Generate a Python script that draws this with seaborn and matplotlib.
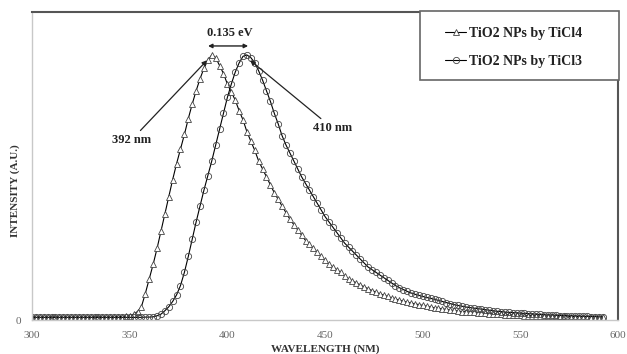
import numpy as np
import pandas as pd
import matplotlib
matplotlib.use("Agg")
import matplotlib.pyplot as plt
from matplotlib.patches import Rectangle
import seaborn as sns

# Fotoluminescência - TiO2 NPs (TiCl4 x TiCl3)
sns.set_style("white")
plt.rcParams['font.family'] = ['Liberation Serif', 'DejaVu Serif']

# comprimento de onda (nm), passo de 2 nm
wavelength = np.arange(300, 594, 2)

ticl4 = [
    0.012, 0.012, 0.012, 0.012, 0.012, 0.012, 0.012, 0.012, 0.012, 0.012,  # 300-318
    0.012, 0.012, 0.012, 0.012, 0.012, 0.012, 0.012, 0.012, 0.012, 0.012,  # 320-338
    0.012, 0.012, 0.013, 0.013, 0.014, 0.016, 0.022, 0.032, 0.050, 0.100,  # 340-358
    0.155, 0.210, 0.270, 0.335, 0.400, 0.465, 0.530, 0.590, 0.645, 0.700,  # 360-378
    0.760, 0.815, 0.865, 0.910, 0.950, 0.980, 1.000, 0.990, 0.960, 0.930,  # 380-398
    0.890, 0.860, 0.830, 0.790, 0.755, 0.710, 0.675, 0.640, 0.600, 0.570,  # 400-418
    0.540, 0.510, 0.480, 0.455, 0.430, 0.405, 0.380, 0.360, 0.340, 0.320,  # 420-438
    0.300, 0.285, 0.270, 0.255, 0.240, 0.225, 0.210, 0.200, 0.190, 0.180,  # 440-458
    0.165, 0.155, 0.147, 0.140, 0.132, 0.125, 0.118, 0.111, 0.105, 0.099,  # 460-478
    0.094, 0.089, 0.084, 0.079, 0.075, 0.071, 0.067, 0.064, 0.061, 0.058,  # 480-498
    0.055, 0.052, 0.049, 0.046, 0.044, 0.042, 0.040, 0.038, 0.036, 0.034,  # 500-518
    0.032, 0.031, 0.030, 0.029, 0.027, 0.026, 0.025, 0.024, 0.023, 0.022,  # 520-538
    0.021, 0.020, 0.020, 0.019, 0.018, 0.018, 0.017, 0.017, 0.016, 0.016,  # 540-558
    0.015, 0.015, 0.015, 0.014, 0.014, 0.014, 0.014, 0.013, 0.013, 0.013,  # 560-578
    0.013, 0.013, 0.012, 0.012, 0.012, 0.012, 0.012,                       # 580-592
]

ticl3 = [
    0.010, 0.010, 0.010, 0.010, 0.010, 0.010, 0.010, 0.010, 0.010, 0.010,  # 300-318
    0.010, 0.010, 0.010, 0.010, 0.010, 0.010, 0.010, 0.010, 0.010, 0.010,  # 320-338
    0.010, 0.010, 0.010, 0.010, 0.010, 0.010, 0.010, 0.010, 0.010, 0.011,  # 340-358
    0.011, 0.012, 0.016, 0.022, 0.035, 0.050, 0.070, 0.095, 0.130, 0.180,  # 360-378
    0.240, 0.305, 0.370, 0.430, 0.490, 0.545, 0.600, 0.660, 0.720, 0.780,  # 380-398
    0.840, 0.890, 0.935, 0.970, 0.995, 1.000, 0.990, 0.970, 0.940, 0.905,  # 400-418
    0.865, 0.825, 0.780, 0.740, 0.695, 0.660, 0.630, 0.600, 0.570, 0.540,  # 420-438
    0.515, 0.490, 0.465, 0.440, 0.415, 0.390, 0.370, 0.350, 0.330, 0.310,  # 440-458
    0.290, 0.275, 0.260, 0.245, 0.230, 0.215, 0.200, 0.190, 0.180, 0.170,  # 460-478
    0.160, 0.150, 0.140, 0.130, 0.122, 0.115, 0.108, 0.102, 0.097, 0.093,  # 480-498
    0.089, 0.085, 0.082, 0.078, 0.074, 0.070, 0.066, 0.062, 0.058, 0.055,  # 500-518
    0.052, 0.049, 0.047, 0.045, 0.043, 0.041, 0.039, 0.037, 0.035, 0.033,  # 520-538
    0.032, 0.030, 0.029, 0.028, 0.027, 0.026, 0.025, 0.024, 0.023, 0.022,  # 540-558
    0.021, 0.020, 0.019, 0.019, 0.018, 0.017, 0.017, 0.016, 0.016, 0.015,  # 560-578
    0.015, 0.014, 0.014, 0.013, 0.013, 0.012, 0.012,                       # 580-592
]

x_ticks = [300, 350, 400, 450, 500, 550, 600]

fig = plt.figure(figsize=(6.27, 3.54), dpi=100)
ax = fig.add_axes([0.051, 0.096, 0.935, 0.870])

sns.lineplot(x=wavelength, y=ticl4, ax=ax, color="black", lw=0.8,
             marker="^", markersize=4, markerfacecolor="white",
             markeredgecolor="#444444", markeredgewidth=0.6,
             label="TiO2 NPs by TiCl4")
sns.lineplot(x=wavelength, y=ticl3, ax=ax, color="black", lw=0.8,
             marker="o", markersize=4.5, markerfacecolor="none",
             markeredgecolor="#444444", markeredgewidth=0.6,
             label="TiO2 NPs by TiCl3")

ax.set_xlim(300, 600)
ax.set_ylim(0, 1.162)
ax.set_xticks(x_ticks)
ax.set_yticks([0])
ax.tick_params(length=0, labelsize=8, colors="#666666", pad=8)

for s in ["top", "right"]:
    ax.spines[s].set_color("#555555")
    ax.spines[s].set_linewidth(1.5)
for s in ["left", "bottom"]:
    ax.spines[s].set_color("#c8c8c8")
    ax.spines[s].set_linewidth(1.0)

ax.set_xlabel("WAVELENGTH (NM)", fontsize=8, fontweight="bold", color="#333333", labelpad=3)
ax.set_ylabel("INTENSITY (A.U.)", fontsize=8, fontweight="bold", color="#333333")
ax.yaxis.set_label_coords(-0.021, 0.42)

# anotações dos picos
ax.annotate("392 nm", xy=(389.6, 0.98), xytext=(351, 0.68), ha="center", va="center",
            fontsize=9, fontweight="bold", color="#222222",
            arrowprops=dict(arrowstyle="-|>", color="#222222", lw=0.9,
                            mutation_scale=7, shrinkA=0, shrinkB=0))
ax.annotate("410 nm", xy=(411.6, 0.98), xytext=(453.6, 0.725), ha="center", va="center",
            fontsize=9, fontweight="bold", color="#222222",
            arrowprops=dict(arrowstyle="-|>", color="#222222", lw=0.9,
                            mutation_scale=7, shrinkA=0, shrinkB=0))
ax.annotate("", xy=(390.1, 1.034), xytext=(410.6, 1.034),
            arrowprops=dict(arrowstyle="<|-|>", color="#222222", lw=1.0,
                            mutation_scale=6, shrinkA=0, shrinkB=0))
ax.text(401.4, 1.083, "0.135 eV", ha="center", va="center",
        fontsize=9, fontweight="bold", color="#222222")

# legenda com moldura própria (caixa mais larga que o padrão)
ax.add_patch(Rectangle((0.662, 0.78), 0.34, 0.222, transform=ax.transAxes,
                       facecolor="white", edgecolor="#666666", lw=1.2,
                       clip_on=False, zorder=4))
leg = ax.legend(loc="upper left", bbox_to_anchor=(0.698, 0.965), fontsize=10,
                frameon=False, handlelength=1.5, handletextpad=0.2,
                borderpad=0.3, labelspacing=1.1, borderaxespad=0)
leg.set_zorder(5)
for t in leg.get_texts():
    t.set_fontweight("bold")
    t.set_color("#222222")

fig.savefig("out.png", dpi=100)
